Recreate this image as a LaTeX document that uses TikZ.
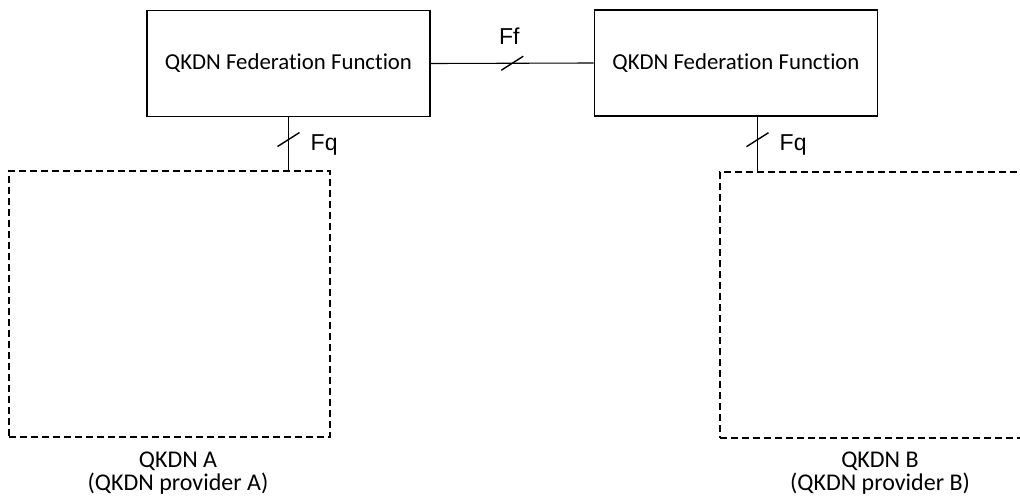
\documentclass[tikz,border=0pt]{standalone}
\usepackage{fontspec}
\setmainfont{Carlito}[Ligatures={NoCommon,NoContextual}]
\newfontfamily\labelfont{Liberation Sans}
\begin{document}
\begin{tikzpicture}[x=1pt,y=-1pt,
  fedbox/.style={draw,line width=1.6pt,minimum width=283pt,minimum height=106pt,
    inner sep=0pt,font=\fontsize{22.8}{26}\selectfont},
  netbox/.style={draw,dashed,dash pattern=on 7pt off 4pt,line width=1.5pt,inner sep=0pt},
  link/.style={line width=1.1pt},
  slashmark/.style={line width=1.4pt},
  iface/.style={font=\labelfont\fontsize{23}{26}\selectfont,inner sep=0pt},
  caption/.style={font=\fontsize{24}{23}\selectfont,align=center,inner sep=0pt,anchor=north}]
\useasboundingbox (0,0) rectangle (1020,498);
\clip (0,0) rectangle (1020,498);

% federation function boxes
\node[fedbox] (fa) at (288.5,63.5) {QKDN Federation Function};
\node[fedbox] (fb) at (736,63) {QKDN Federation Function};

% provider network areas (B runs past the right edge)
\node[netbox,minimum width=321pt,minimum height=266pt] (qa) at (169.5,304) {};
\node[netbox,minimum width=340pt,minimum height=266pt] (qb) at (890,305) {};

% Ff interface between the federation functions
\draw[link] (fa.east) -- coordinate[pos=0.5] (ff) (fb.west);
\draw[slashmark] ([shift={(-11,7)}]ff) -- ([shift={(11,-7)}]ff);
\node[iface] (ffl) at ([shift={(-3,-27)}]ff) {Ff};

% Fq interface of provider A
\coordinate (ta) at (fa.south |- qa.north);
\draw[link] (fa.south) -- coordinate[pos=0.42] (fqa) (ta);
\draw[slashmark] ([shift={(-11,7)}]fqa) -- ([shift={(11,-7)}]fqa);
\node[iface,anchor=west] (fqal) at ([shift={(22,5)}]fqa) {Fq};

% Fq interface of provider B
\coordinate (tb) at (757.5,0 |- qb.north);
\draw[link] (fb.south -| tb) -- coordinate[pos=0.42] (fqb) (tb);
\draw[slashmark] ([shift={(-11,7)}]fqb) -- ([shift={(11,-7)}]fqb);
\node[iface,anchor=west] (fqbl) at ([shift={(22,5)}]fqb) {Fq};

% provider captions
\node[caption] (ca) at (178,452) {QKDN A\\(QKDN provider A)};
\node[caption] (cb) at (880,452) {QKDN B\\(QKDN provider B)};
\end{tikzpicture}
\end{document}
